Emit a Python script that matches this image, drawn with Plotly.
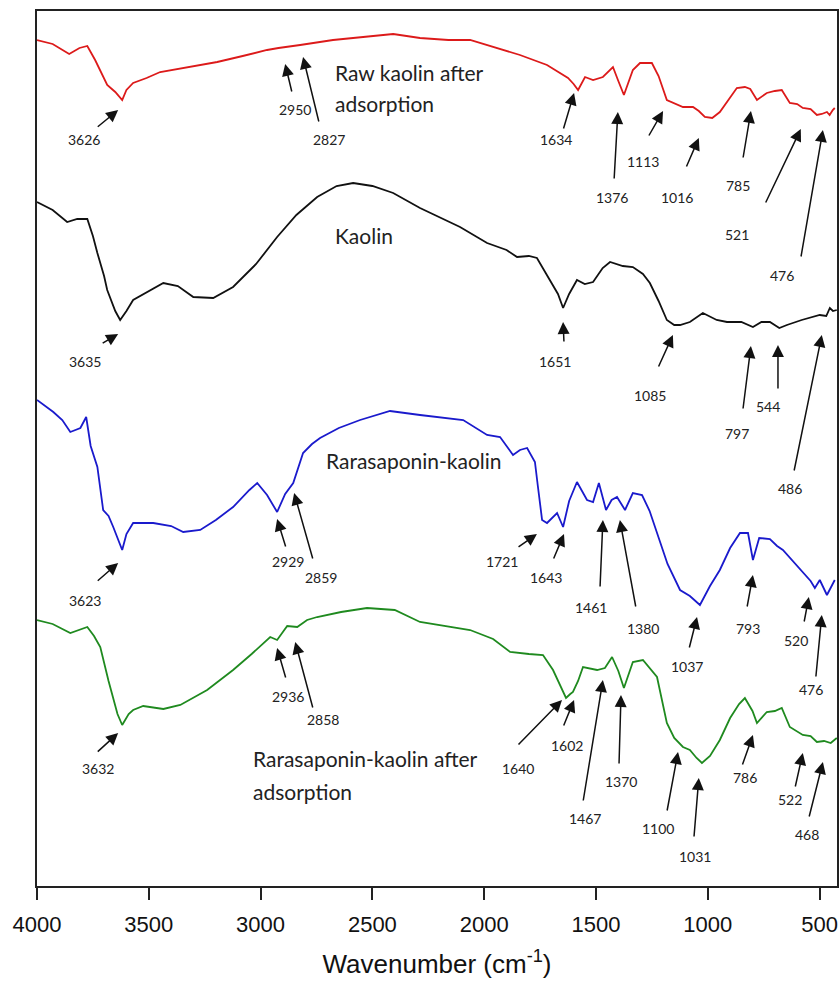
import plotly.graph_objects as go

# ---- Data (wavenumber in cm-1, transmittance in arbitrary offset units) ----
raw_after_wn = [4000, 3930, 3856, 3810, 3775, 3740, 3686, 3650, 3619, 3600, 3570, 3510, 3449, 3320,
                3194, 3080, 2971, 2920, 2881, 2823, 2676, 2540, 2407, 2287, 2160,
                2063, 1960, 1840, 1719, 1661, 1625, 1600, 1580, 1549, 1513, 1469, 1424, 1400, 1375,
                1335, 1303, 1250, 1220, 1183, 1150, 1111, 1066, 1040, 1013, 980, 946, 900, 870, 834,
                810, 780, 736, 700, 669, 633, 600, 575, 540, 512, 490, 467, 455, 441, 432]
raw_after_t = [846, 842, 832, 838, 840, 826, 801, 794, 786, 796, 803, 808, 814, 819,
               824, 830, 836, 838, 839, 841, 846, 849, 852, 848, 846,
               846, 839, 831, 821, 813, 808, 802, 796, 809, 806, 809, 819, 805, 791,
               816, 823, 823, 810, 786, 783, 779, 779, 775, 769, 768, 774, 788, 798, 799,
               797, 786, 793, 795, 796, 783, 782, 778, 777, 771, 772, 774, 771, 776, 778]

kaolin_wn = [4000, 3930, 3865, 3820, 3775, 3750, 3730, 3700, 3686, 3650, 3628, 3600, 3570, 3500,
             3435, 3370, 3301, 3212, 3123, 3020, 2926, 2840, 2747, 2660, 2586, 2500,
             2407, 2287, 2108, 1987, 1900, 1853, 1800, 1764, 1706, 1670, 1647, 1620, 1585, 1550,
             1513, 1470, 1437, 1380, 1335, 1290, 1259, 1220, 1183, 1150, 1124, 1080, 1022, 960,
             914, 850, 798, 760, 722, 680, 646, 580, 499, 470, 454, 440, 423]
kaolin_t = [684, 676, 664, 667, 667, 650, 633, 610, 596, 575, 566, 575, 586, 595,
            603, 600, 589, 588, 599, 622, 649, 671, 689, 700, 703, 700,
            693, 678, 659, 643, 636, 629, 630, 628, 606, 592, 578, 592, 606, 602,
            604, 618, 624, 620, 619, 612, 603, 585, 566, 561, 561, 564, 573, 566,
            564, 564, 559, 564, 564, 558, 561, 566, 571, 570, 578, 575, 576]

rara_wn = [4000, 3927, 3887, 3851, 3806, 3780, 3760, 3730, 3704, 3680, 3659, 3619, 3600, 3570,
           3480, 3400, 3346, 3270, 3200, 3123, 3050, 3015, 2971, 2926, 2890, 2854, 2810, 2770,
           2734, 2650, 2555, 2421, 2287, 2094, 1987, 1929, 1871, 1840,
           1808, 1773, 1760, 1741, 1719, 1674, 1647, 1620, 1585, 1540, 1513, 1487, 1455, 1430,
           1406, 1370, 1335, 1294, 1260, 1227, 1180, 1124, 1080, 1035, 990, 946, 900, 856, 820, 798,
           770, 722, 690, 664, 620, 575, 540, 521, 499, 467, 432]
rara_t = [486, 474, 466, 454, 458, 469, 440, 419, 376, 370, 359, 336, 352, 363,
          363, 360, 354, 356, 366, 379, 396, 403, 391, 374, 392, 403, 433, 442,
          448, 458, 466, 475, 471, 466, 451, 449, 431, 436,
          438, 424, 400, 366, 363, 373, 359, 385, 404, 386, 384, 403, 376, 386,
          389, 376, 393, 391, 375, 353, 322, 296, 290, 281, 300, 316, 338, 353, 353, 326,
          348, 347, 340, 336, 325, 313, 305, 298, 306, 291, 306]

rara_after_wn = [4000, 3930, 3851, 3775, 3745, 3717, 3680, 3640, 3619, 3590, 3570, 3525, 3435, 3359,
                 3239, 3123, 3040, 2957, 2926, 2881, 2836, 2792, 2747, 2640, 2524, 2400, 2287, 2063,
                 1960, 1884, 1800, 1737, 1692, 1660, 1634, 1615, 1603, 1580, 1558, 1495, 1460, 1428,
                 1400, 1375, 1335, 1290, 1227, 1183, 1150, 1111, 1080, 1050, 1026, 990, 946, 900,
                 860, 834, 800, 780, 736, 700, 669, 633, 575, 540, 512, 480, 450, 423]
rara_after_t = [266, 262, 253, 259, 250, 239, 205, 172, 161, 172, 176, 180, 177, 181,
                196, 216, 232, 249, 246, 260, 259, 266, 269, 274, 278, 276, 264, 256,
                247, 234, 232, 231, 216, 200, 188, 192, 194, 205, 219, 216, 218, 229,
                215, 198, 224, 226, 209, 163, 148, 139, 136, 128, 123, 130, 146, 168,
                182, 188, 175, 163, 174, 175, 178, 159, 151, 150, 144, 145, 143, 148]

series_names = ["Raw kaolin after adsorption", "Kaolin", "Rarasaponin-kaolin",
                "Rarasaponin-kaolin after adsorption"]
series_colors = ["#dc1a1a", "#111111", "#1a1acc", "#1f8a1f"]

# peak labels: label, head(wn, t), tail(wn, t), text position(wn, t)
peak_labels = [
    ("3626", 3637, 776, 3735, 758, 3789, 747),
    ("2950", 2890, 822, 2859, 793, 2845, 777),
    ("2827", 2810, 829, 2738, 763, 2693, 747),
    ("1634", 1598, 793, 1647, 756, 1679, 747),
    ("1376", 1402, 774, 1419, 706, 1428, 689),
    ("1113", 1200, 775, 1267, 749, 1290, 725),
    ("1016", 1040, 748, 1098, 718, 1138, 689),
    ("785", 807, 775, 843, 727, 865, 701),
    ("521", 584, 757, 744, 682, 870, 652),
    ("476", 485, 756, 584, 628, 669, 611),
    ("3635", 3637, 552, 3713, 542, 3784, 525),
    ("1651", 1647, 564, 1643, 543, 1683, 525),
    ("1085", 1156, 551, 1223, 518, 1259, 491),
    ("797", 807, 540, 843, 476, 870, 453),
    ("544", 686, 541, 686, 496, 731, 480),
    ("486", 490, 551, 615, 414, 633, 398),
    ("3623", 3637, 323, 3735, 304, 3784, 286),
    ("2929", 2926, 367, 2886, 338, 2877, 325),
    ("2859", 2850, 393, 2765, 326, 2729, 309),
    ("1721", 1764, 352, 1853, 338, 1920, 325),
    ("1643", 1643, 352, 1692, 326, 1723, 309),
    ("1461", 1469, 366, 1482, 298, 1522, 279),
    ("1380", 1393, 366, 1321, 278, 1290, 258),
    ("1037", 1048, 269, 1084, 237, 1093, 220),
    ("793", 798, 311, 825, 278, 820, 258),
    ("520", 548, 289, 570, 263, 606, 246),
    ("476", 490, 271, 517, 208, 539, 197),
    ("3632", 3637, 153, 3735, 133, 3726, 118),
    ("2936", 2926, 238, 2886, 207, 2877, 190),
    ("2858", 2845, 244, 2765, 177, 2720, 167),
    ("1640", 1652, 186, 1853, 140, 1849, 118),
    ("1602", 1598, 186, 1647, 159, 1630, 141),
    ("1467", 1469, 206, 1558, 84, 1549, 68),
    ("1370", 1388, 191, 1397, 121, 1388, 105),
    ("1100", 1133, 134, 1183, 74, 1223, 58),
    ("1031", 1040, 108, 1062, 48, 1057, 30),
    ("786", 798, 151, 847, 120, 834, 109),
    ("522", 575, 133, 610, 98, 633, 87),
    ("468", 485, 124, 548, 68, 557, 52),
]

# curve titles: text, left wn, t
curve_titles = [
    ("Raw kaolin after", 2676, 814),
    ("adsorption", 2676, 783),
    ("Kaolin", 2676, 651),
    ("Rarasaponin-kaolin", 2716, 426),
    ("Rarasaponin-kaolin after", 3042, 128),
    ("adsorption", 3042, 95),
]

x_ticks = [4000, 3500, 3000, 2500, 2000, 1500, 1000, 500]

# ---- Figure ----
fig = go.Figure()
for name, xs, ys, col in zip(series_names,
                             [raw_after_wn, kaolin_wn, rara_wn, rara_after_wn],
                             [raw_after_t, kaolin_t, rara_t, rara_after_t],
                             series_colors):
    fig.add_trace(go.Scatter(x=xs, y=ys, mode="lines", name=name,
                             line=dict(color=col, width=1.8), showlegend=False))

anns = []
for lab, hx, hy, tx, ty, lx, ly in peak_labels:
    anns.append(dict(x=hx, y=hy, ax=tx, ay=ty, xref="x", yref="y", axref="x", ayref="y",
                     text="", showarrow=True, arrowhead=2, arrowsize=1.6, arrowwidth=1.5,
                     arrowcolor="#111111", standoff=0, startstandoff=0))
    anns.append(dict(x=lx, y=ly, xref="x", yref="y", text=lab, showarrow=False,
                     font=dict(family="Lato", size=14, color="#222222")))
for txt, lx, ly in curve_titles:
    anns.append(dict(x=lx, y=ly, xref="x", yref="y", text=txt, showarrow=False,
                     xanchor="left", yanchor="middle",
                     font=dict(family="Lato", size=21, color="#222222")))

fig.update_layout(
    width=840, height=983,
    margin=dict(l=37, r=3, t=11, b=97, autoexpand=False),
    paper_bgcolor="white", plot_bgcolor="white",
    annotations=anns,
)
fig.update_xaxes(range=[4000, 422], tickvals=x_ticks, ticktext=[str(v) for v in x_ticks],
                 ticks="outside", ticklen=12, tickwidth=2, tickcolor="#222222",
                 ticklabelstandoff=6,
                 showline=True, linecolor="#222222", linewidth=2, mirror=True,
                 showgrid=False, zeroline=False, automargin=False,
                 tickfont=dict(family="Liberation Sans", size=22, color="#111111"),
                 title=dict(text="Wavenumber (cm<sup>-1</sup>)", standoff=18,
                            font=dict(family="Liberation Sans", size=26, color="#111111")))
fig.update_yaxes(range=[0, 875], showticklabels=False, ticks="",
                 showline=True, linecolor="#222222", linewidth=2, mirror=True,
                 showgrid=False, zeroline=False, automargin=False)

fig.write_html("out.html", config={"displayModeBar": False},
               post_script="document.body.style.margin='0';document.body.style.padding='0';")
